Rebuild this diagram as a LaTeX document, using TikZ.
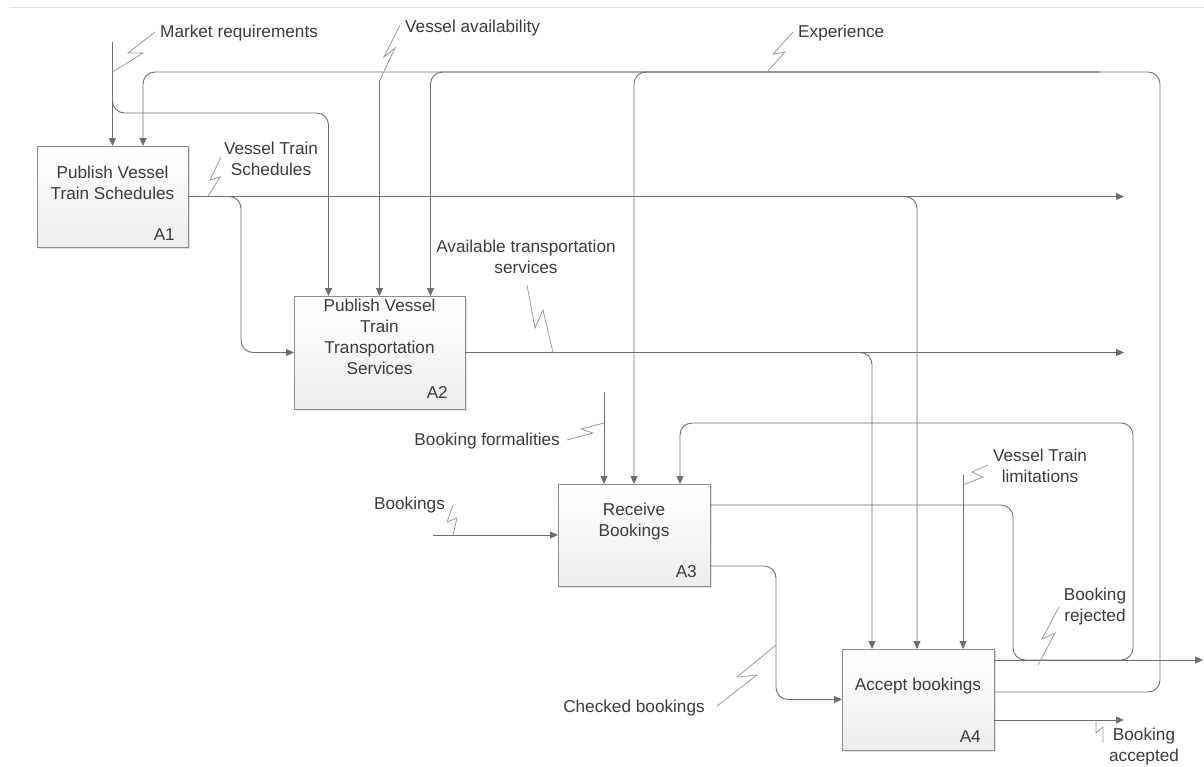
\documentclass[tikz,border=0pt]{standalone}
\usepackage{fontspec}
\setmainfont{Liberation Sans}
\usetikzlibrary{arrows.meta,shadows,calc}

\definecolor{wire}{HTML}{6E6E6E}
\definecolor{frame}{HTML}{8E8E8E}
\definecolor{ink}{HTML}{3C3C3C}
\definecolor{zig}{HTML}{9A9A9A}
\definecolor{toprule}{HTML}{DEDEDE}

\tikzset{
  proc/.style={draw=frame, line width=1pt, top color=white, bottom color=black!7,
    minimum width=152pt, minimum height=102pt, inner sep=0pt, outer sep=0pt,
    drop shadow={shadow xshift=1.5pt, shadow yshift=-1.5pt, opacity=0.12, fill=black}},
  wire/.style={draw=wire, line width=0.9pt, rounded corners=12pt},
  arr/.style={wire, -{Triangle[length=8pt,width=7pt]}},
  zag/.style={draw=zig, line width=0.8pt},
  lbl/.style={text=ink, font=\fontsize{17.2}{21}\selectfont, align=center, inner sep=0pt},
  boxid/.style={lbl, anchor=base east}
}

\begin{document}
\begin{tikzpicture}[x=1pt, y=-1pt]
\useasboundingbox (0,0) rectangle (1204,766);

% thin rule along the top
\draw[toprule, line width=1pt] (9,7) -- (1204,7);

% activity boxes
\node[proc, minimum width=151pt, minimum height=101pt] (A1) at (112.5,196.5) {};
\node[proc, minimum width=171pt, minimum height=113pt] (A2) at (379.5,352.5) {};
\node[proc] (A3) at (634,535) {};
\node[proc, minimum height=101pt] (A4) at (918,699.5) {};

\node[lbl] (t1) at ([yshift=14pt]A1.center) {Publish Vessel\\Train Schedules};
\node[lbl] (t2) at ([yshift=16pt]A2.center) {Publish Vessel\\Train\\Transportation\\Services};
\node[lbl] (t3) at ([yshift=13pt]A3.center) {Receive\\Bookings};
\node[lbl] (t4) at ([yshift=13.5pt]A4.center) {Accept bookings};

\node[boxid] (i1) at ([shift={(-13pt,7pt)}]A1.south east) {A1};
\node[boxid] (i2) at ([shift={(-17pt,11pt)}]A2.south east) {A2};
\node[boxid] (i3) at ([shift={(-13pt,9pt)}]A3.south east) {A3};
\node[boxid] (i4) at ([shift={(-13pt,8pt)}]A4.south east) {A4};

% attachment points on the boxes
\coordinate (a1c2) at ([xshift=30.5pt]A1.north);
\coordinate (a2c1) at ([xshift=-51pt]A2.north);
\coordinate (a2c3) at ([xshift=51pt]A2.north);
\coordinate (a3c1) at ([xshift=-30pt]A3.north);
\coordinate (a3c3) at ([xshift=46pt]A3.north);
\coordinate (a4c1) at ([xshift=-46pt]A4.north);
\coordinate (a4c2) at ([xshift=-1pt]A4.north);
\coordinate (a4c3) at ([xshift=45pt]A4.north);
\coordinate (a3o1) at ([yshift=30pt]A3.east);
\coordinate (a3o2) at ([yshift=-31pt]A3.east);
\coordinate (a4o1) at ([yshift=39.5pt]A4.east);
\coordinate (a4o2) at ([yshift=7.5pt]A4.east);
\coordinate (a4o3) at ([yshift=-20.5pt]A4.east);

% free ends and routing points
\coordinate (mrTop) at (112.5,42);
\coordinate (mrRow) at (0,113);
\coordinate (vaTop) at (379.5,80);
\coordinate (expR) at (1160,72);
\coordinate (expMid) at (1100,72);
\coordinate (feedX) at (241,0);
\coordinate (o1End) at (1124,196.5);
\coordinate (o2End) at (1124,352.5);
\coordinate (bfTop) at (604,392);
\coordinate (bkIn) at (433,535);
\coordinate (rjL) at (1013,0);
\coordinate (rjR) at (1133,0);
\coordinate (rjTop) at (0,423);
\coordinate (rjOut) at (1203,660);
\coordinate (cbX) at (776,0);
\coordinate (vlTop) at (963,475);
\coordinate (baEnd) at (1124,720);

% market requirements
\draw[arr] (mrTop) -- (A1.north);
\draw[arr] (mrTop) -- (mrTop |- mrRow) -- (a2c1 |- mrRow) -- (a2c1);

% vessel availability
\draw[arr] (vaTop) -- (A2.north);

% experience loop from A4 back to the mechanisms
\draw[arr] (a4o2) -- (expR |- a4o2) -- (expR) -- (a1c2 |- expR) -- (a1c2);
\draw[arr] (expMid) -- (a2c3 |- expR) -- (a2c3);
\draw[arr] (expMid) -- (A3.north |- expR) -- (A3.north);

% schedules from A1
\draw[arr] (A1.east) -- (o1End);
\draw[arr] (A1.east) -| (a4c2);
\draw[arr] (A1.east) -| (feedX |- A2.west) -- (A2.west);

% transportation services from A2
\draw[arr] (A2.east) -- (o2End);
\draw[arr] (A2.east) -| (a4c1);

% booking formalities and bookings into A3
\draw[arr] (bfTop) -- (a3c1);
\draw[arr] (bkIn) -- (A3.west);

% rejected bookings loop back into A3
\draw[arr] (a3o1) -| (rjL |- a4o1) -- (rjR |- a4o1) -- (rjR |- rjTop) -| (a3c3);
\draw[arr] (a4o1) -- (rjOut);

% checked bookings into A4
\draw[arr] (a3o2) -| (cbX |- A4.west) -- (A4.west);

% vessel train limitations
\draw[arr] (vlTop) -- (a4c3);

% booking accepted
\draw[arr] (a4o3) -- (baEnd);

% label callouts
\draw[zag] (112.5,72) -- (143,53) -- (128,53) -- (155,32);
\node[lbl, anchor=west] (lmr) at (160,33) {Market requirements};

\draw[zag] (380,80) -- (395,48) -- (384,57) -- (400,25);
\node[lbl, anchor=west] (lva) at (405,28) {Vessel availability};

\draw[zag] (767,72) -- (785,52) -- (773,54) -- (793,32);
\node[lbl, anchor=west] (lex) at (798,33) {Experience};

\draw[zag] (208,196.5) -- (220,177) -- (210,180) -- (221,157);
\node[lbl] (lvs) at (271,159) {Vessel Train\\Schedules};

\draw[zag] (553,352.5) -- (543,310) -- (535,328) -- (527,285);
\node[lbl] (lat) at (526,257) {Available transportation\\services};

\draw[zag] (604,423) -- (581,429) -- (593,433) -- (567,440);
\node[lbl, anchor=east] (lbf) at (560,441) {Booking formalities};

\draw[zag] (453,535) -- (457,518) -- (447,522) -- (453,505);
\node[lbl] (lbk) at (409.5,505) {Bookings};

\draw[zag] (963,485) -- (983,477) -- (972,472) -- (988,465);
\node[lbl] (lvl) at (1040,466) {Vessel Train\\limitations};

\draw[zag] (1038,665) -- (1055,633) -- (1042,639) -- (1059,607);
\node[lbl] (lbr) at (1095,607) {Booking\\rejected};

\draw[zag] (776,645) -- (737,677) -- (757,675) -- (717,706);
\node[lbl] (lcb) at (634,708) {Checked bookings};

\draw[zag] (1096,720) -- (1096,733) -- (1103,727) -- (1103,743);
\node[lbl] (lba) at (1144,747) {Booking\\accepted};
\end{tikzpicture}
\end{document}
